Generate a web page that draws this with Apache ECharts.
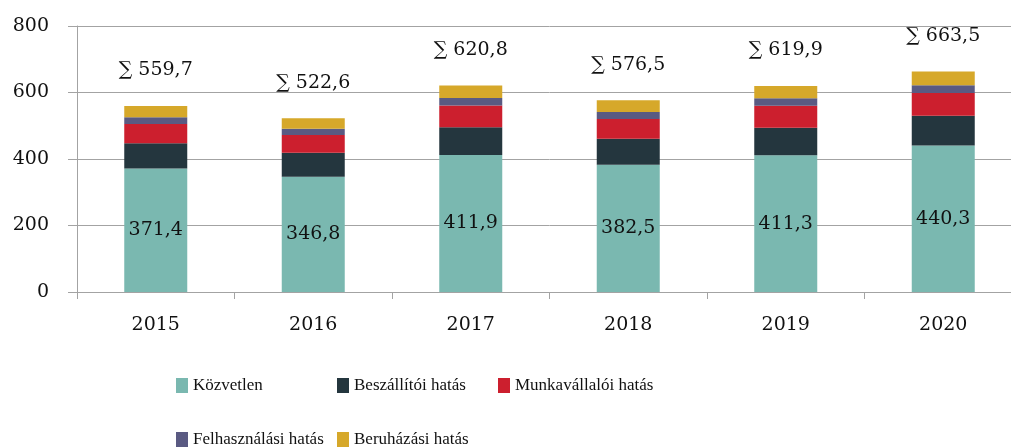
<!DOCTYPE html>
<html>
<head>
<meta charset="utf-8">
<title>Hatások</title>
<script src="https://cdn.jsdelivr.net/npm/echarts@6/dist/echarts.min.js"></script>
<style>
	html, body { margin: 0; padding: 0; background: #fff; overflow: hidden; }
	/* plot area runs a little past the right edge of the window, as in the original */
	#chart { width: 1022px; height: 447px; }
</style>
</head>
<body>
<div id="chart"></div>
<script>
"use strict";

var years = ['2015', '2016', '2017', '2018', '2019', '2020'];
var kozvetlen = [371.4, 346.8, 411.9, 382.5, 411.3, 440.3];
var beszallitoi = [76.3, 72.2, 83.4, 78.5, 83.0, 89.5];
var munkavallaloi = [57.6, 53.2, 65.3, 59.3, 66.2, 68.8];
var felhasznalasi = [20.0, 19.0, 22.9, 21.0, 22.3, 23.0];
var beruhazasi = [34.4, 31.4, 37.3, 35.2, 37.1, 41.9];
var totals = ['559,7', '522,6', '620,8', '576,5', '619,9', '663,5'];

var SERIF = '"DejaVu Serif", serif';
var LEGEND_FONT = '"Liberation Serif", serif';
var GRID_COLOR = '#a3a3a3';

function fmt(v) {
	return v.toFixed(1).replace('.', ',');
}

function legendAt(name, left, top) {
	return {
		data: [name],
		left: left,
		top: top,
		itemWidth: 12,
		itemHeight: 15,
		itemGap: 5,
		padding: 0,
		icon: 'rect',
		textStyle: { fontFamily: LEGEND_FONT, fontSize: 17, color: '#111' }
	};
}

function barSeries(name, data, color) {
	return {
		name: name,
		type: 'bar',
		stack: 'total',
		barWidth: '40%',
		data: data,
		itemStyle: { color: color },
		emphasis: { disabled: true }
	};
}

var chart = echarts.init(document.getElementById('chart'), null, { renderer: 'canvas' });

var series = [
	barSeries('Közvetlen', kozvetlen, '#7ab8b0'),
	barSeries('Beszállítói hatás', beszallitoi, '#24363e'),
	barSeries('Munkavállalói hatás', munkavallaloi, '#cc1f2e'),
	barSeries('Felhasználási hatás', felhasznalasi, '#5a5a82'),
	barSeries('Beruházási hatás', beruhazasi, '#d6a82a')
];

series[0].label = {
	show: true,
	position: 'inside',
	fontFamily: SERIF,
	fontSize: 19,
	color: '#111',
	formatter: function(p) { return fmt(p.value); }
};

series[4].label = {
	show: true,
	position: 'top',
	distance: 26,
	fontFamily: SERIF,
	fontSize: 19,
	color: '#111',
	formatter: function(p) { return '\u2211 ' + totals[p.dataIndex]; }
};

chart.setOption({
	animation: false,
	grid: { left: 77, top: 26, right: 0, bottom: 155 },
	legend: [
		legendAt('Közvetlen', 176, 377),
		legendAt('Beszállítói hatás', 337, 377),
		legendAt('Munkavállalói hatás', 498, 377),
		legendAt('Felhasználási hatás', 176, 431),
		legendAt('Beruházási hatás', 337, 431)
	],
	xAxis: {
		type: 'category',
		data: years,
		axisLine: { lineStyle: { color: GRID_COLOR, width: 1 } },
		axisTick: { show: true, length: 7, alignWithLabel: false, lineStyle: { color: GRID_COLOR } },
		axisLabel: { fontFamily: SERIF, fontSize: 19, color: '#111', margin: 24 }
	},
	yAxis: {
		type: 'value',
		min: 0,
		max: 800,
		interval: 200,
		axisLine: { show: true, lineStyle: { color: GRID_COLOR, width: 1 } },
		axisTick: { show: true, length: 9, lineStyle: { color: GRID_COLOR } },
		splitLine: { show: true, lineStyle: { color: GRID_COLOR, width: 1 } },
		axisLabel: { fontFamily: SERIF, fontSize: 19, color: '#111', margin: 28 }
	},
	series: series
});
</script>
</body>
</html>
